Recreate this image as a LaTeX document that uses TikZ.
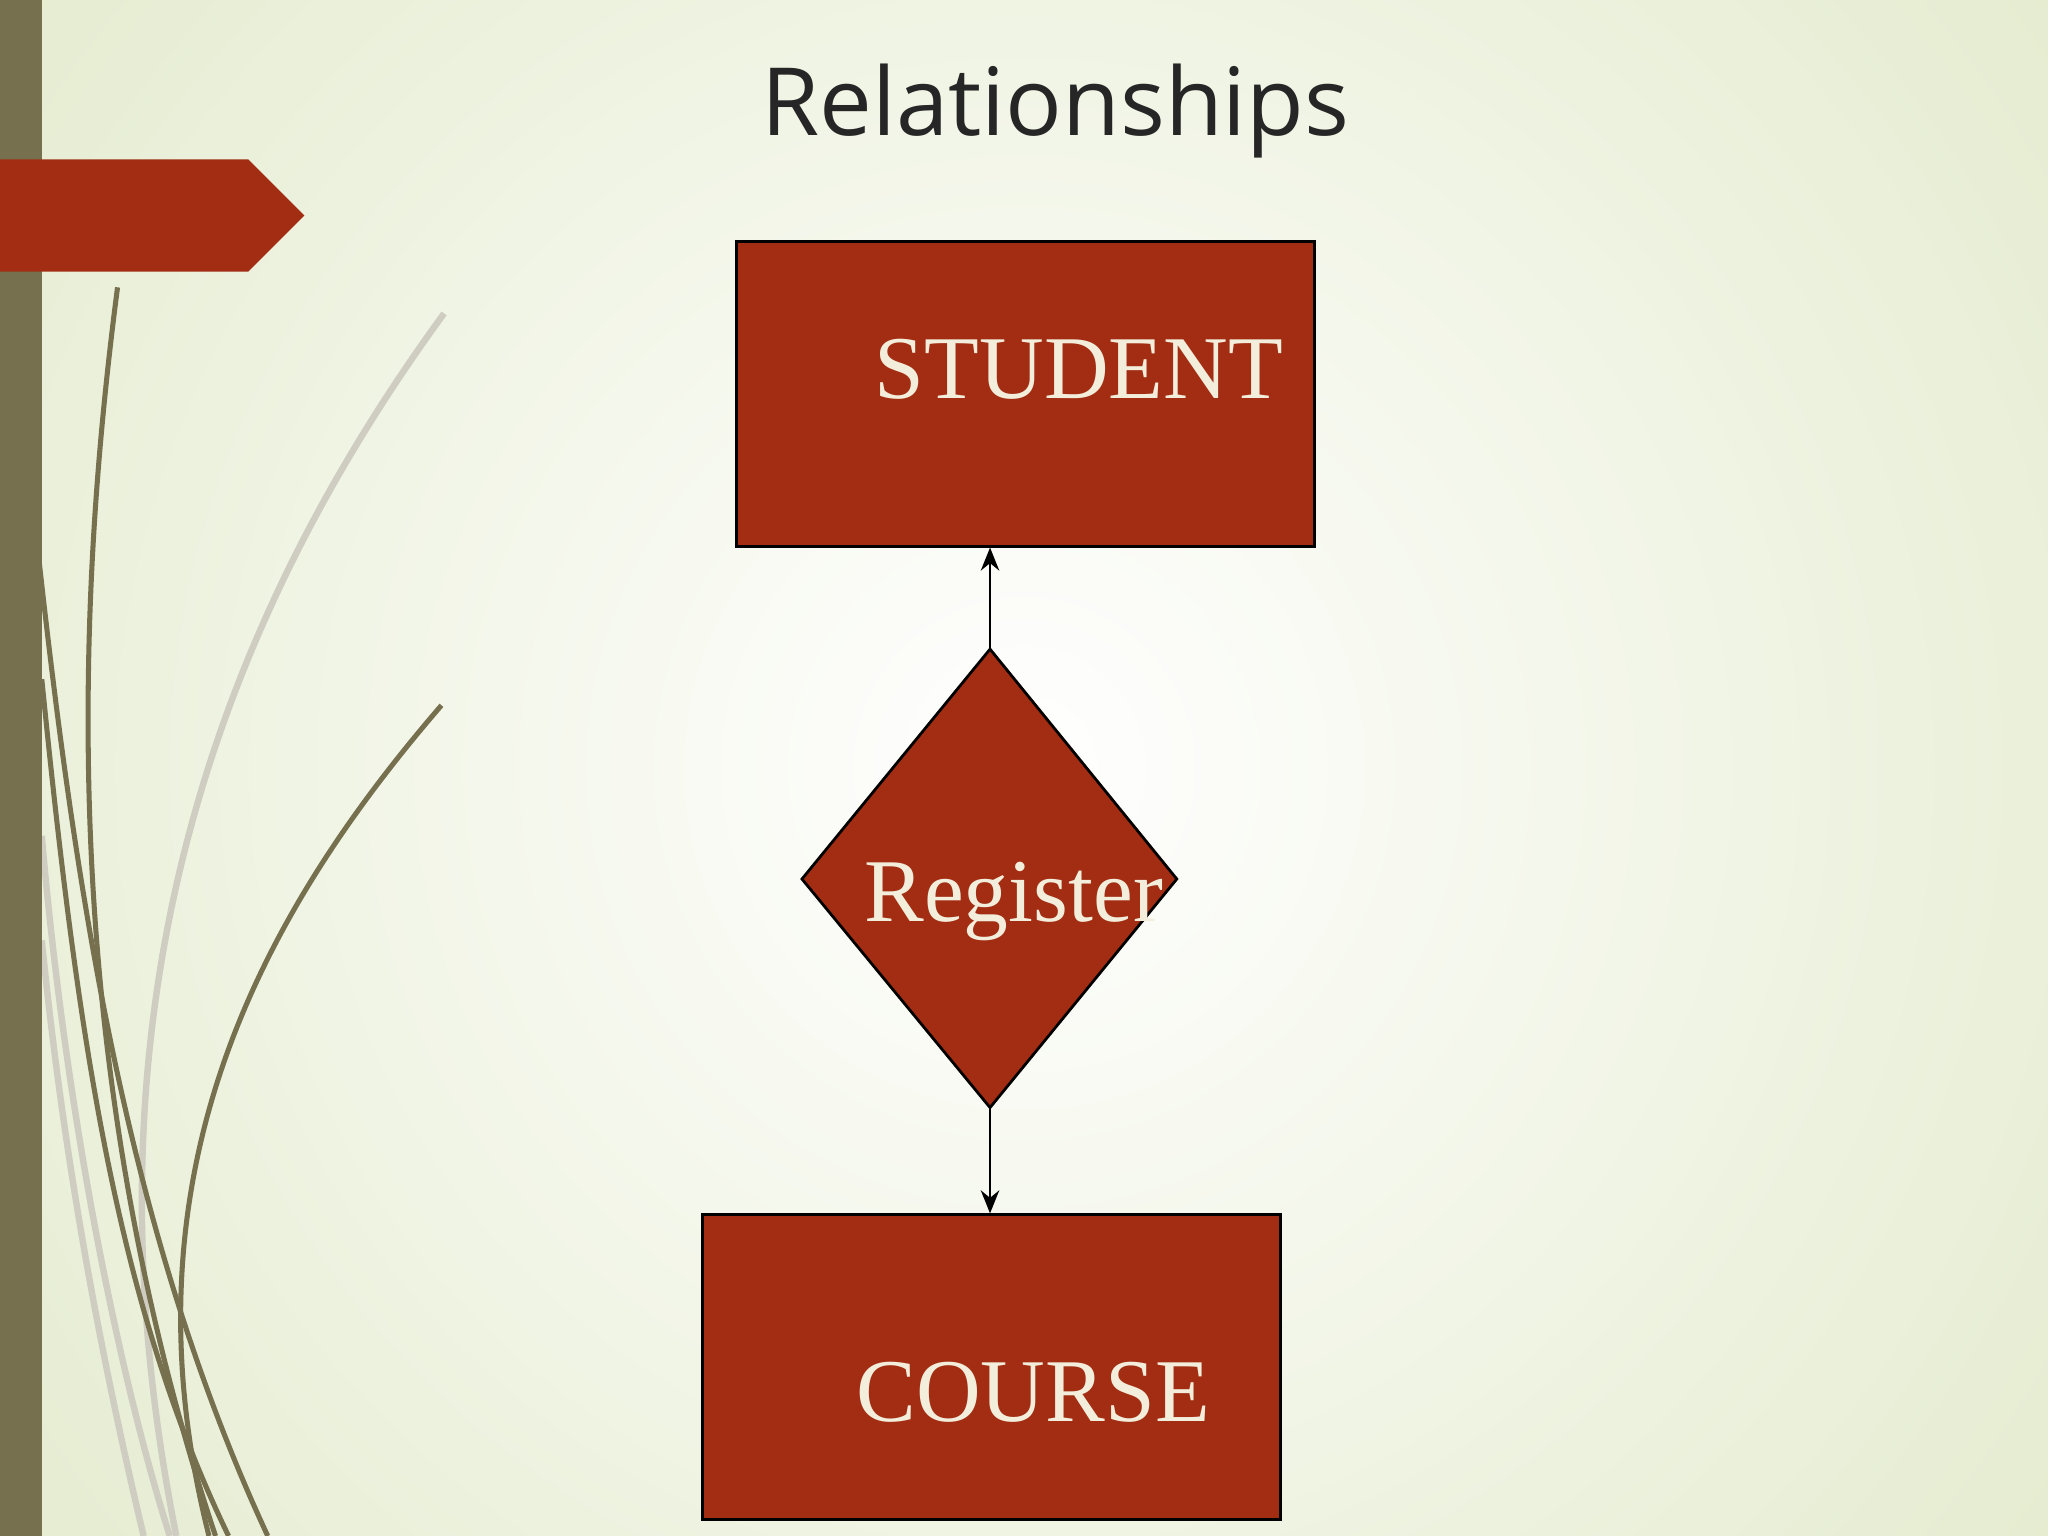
\documentclass[tikz,border=0pt]{standalone}
\usepackage{fontspec}
\setmainfont{Liberation Serif}
\newfontfamily\titlefont{Open Sans}
\usetikzlibrary{arrows.meta,shapes.geometric}
\definecolor{rust}{HTML}{A22D13}
\definecolor{olive}{HTML}{76704F}
\definecolor{cream}{HTML}{F3EEDC}
\definecolor{bgout}{HTML}{E2EACB}
\tikzset{
  entity/.style={draw=black,fill=rust,line width=0.6pt,inner sep=0pt},
  lbl/.style={text=cream,font=\fontsize{19.5}{20}\selectfont},
  conn/.style={draw=black,line width=0.6pt,-{Stealth[length=5pt,width=4pt]}},
  deco/.style={draw=olive,line width=1.1pt},
  decol/.style={draw=olive!35,line width=1.4pt}
}
\begin{document}
\begin{tikzpicture}[x=0.01cm,y=-0.01cm]
\useasboundingbox (0,0) rectangle (1568,1176);
\fill[bgout] (0,0) rectangle (1568,1176);
\fill[inner color=white,outer color=bgout] (-300,-500) rectangle (1868,1676);
% decorative curves
\draw[decol] (340,240) .. controls (150,500) and (60,800) .. (135,1176);
\draw[decol] (32,640) .. controls (50,850) and (90,1050) .. (130,1176);
\draw[decol] (32,720) .. controls (50,900) and (80,1050) .. (110,1176);
\draw[deco] (90,220) .. controls (60,450) and (40,800) .. (165,1176);
\draw[deco] (30,430) .. controls (60,700) and (100,950) .. (205,1176);
\draw[deco] (32,520) .. controls (60,800) and (90,1000) .. (175,1176);
\draw[deco] (338,540) .. controls (200,700) and (90,900) .. (160,1176);
% left bar and tab
\fill[olive] (0,0) rectangle (32,1176);
\fill[rust] (0,122) -- (190,122) -- (233,165) -- (190,208) -- (0,208) -- cycle;
% title
\node (title) at (808,85) {\titlefont\fontsize{20.5}{21}\selectfont\color{black!85}Relationships};
% entities
\node[entity,minimum width=4.42cm,minimum height=2.33cm,anchor=north west] (student) at (563,184) {};
\node[lbl] (slbl) at (826,283) {STUDENT};
\node[entity,minimum width=4.42cm,minimum height=2.33cm,anchor=north west] (course) at (537,929) {};
\node[lbl] (clbl) at (791,1066) {COURSE};
\draw[entity] (758,497) coordinate (dt) -- (901,673) -- (758,848) coordinate (db) -- (614,673) -- cycle;
\node[lbl] (rlbl) at (776,690) {Register};
\draw[conn] (dt) -- (student.south -| dt);
\draw[conn] (db) -- (course.north -| db);
\end{tikzpicture}
\end{document}
